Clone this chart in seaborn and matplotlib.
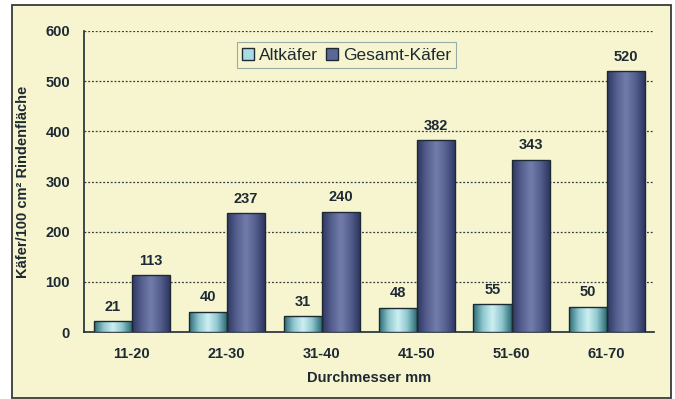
import matplotlib
matplotlib.use("Agg")
import matplotlib.pyplot as plt
import numpy as np
import pandas as pd
import seaborn as sns
from matplotlib.patches import Patch, Rectangle
from matplotlib.colors import LinearSegmentedColormap

# Data
categories = ["11-20", "21-30", "31-40", "41-50", "51-60", "61-70"]
altkaefer = [21, 40, 31, 48, 55, 50]
gesamt = [113, 237, 240, 382, 343, 520]
series_names = ["Altkäfer", "Gesamt-Käfer"]
y_ticks = [0, 100, 200, 300, 400, 500, 600]

df = pd.DataFrame({
    "Durchmesser": categories * 2,
    "Wert": altkaefer + gesamt,
    "Serie": [series_names[0]] * len(categories) + [series_names[1]] * len(categories),
})

sns.set_theme(style="white")
plt.rcParams["font.family"] = ["Liberation Sans", "DejaVu Sans"]

bg = "#f7f5d0"
ink = "#1e2a33"
flat_colors = {"Altkäfer": "#a9dbe2", "Gesamt-Käfer": "#5d6796"}
gradients = {
    "Altkäfer": ["#2d6b73", "#8fc7cf", "#cdf0f2", "#8fc7cf", "#2d6b73"],
    "Gesamt-Käfer": ["#2f3762", "#56608f", "#737dac", "#56608f", "#2f3762"],
}
fs = 10.5

fig = plt.figure(figsize=(6.75, 3.99), dpi=100, facecolor="white")
# Framed cream panel behind the axes
W, H = 675, 399
frame = Rectangle((12 / W, 1 - 398 / H), (671 - 12) / W, (398 - 5) / H,
                  transform=fig.transFigure, facecolor=bg, edgecolor="#3a3a3a",
                  linewidth=1.3, zorder=-10)
fig.patches.append(frame)

ax = fig.add_axes([84 / W, 1 - 332 / H, (654 - 84) / W, (332 - 31) / H])
ax.set_zorder(1)
ax.set_facecolor(bg)

sns.barplot(data=df, x="Durchmesser", y="Wert", hue="Serie", order=categories,
            hue_order=series_names, palette=flat_colors, width=0.8, dodge=True,
            edgecolor=ink, linewidth=1.0, legend=False, ax=ax, zorder=3)

n = len(categories)
# Shaded (cylinder-like) fill for each bar
for i, bar in enumerate(ax.patches[:2 * n]):
    name = series_names[i // n]
    cmap = LinearSegmentedColormap.from_list(name, gradients[name])
    x0, w = bar.get_x(), bar.get_width()
    y0, h = bar.get_y(), bar.get_height()
    grad = np.linspace(0, 1, 64).reshape(1, -1)
    im = ax.imshow(grad, cmap=cmap, aspect="auto", extent=(x0, x0 + w, y0, y0 + h),
                   zorder=3.5, interpolation="bicubic")
    im.set_clip_path(bar)
    bar.set_facecolor("none")
    bar.set_zorder(4)
    val = altkaefer[i % n] if i < n else gesamt[i % n]
    ax.text(x0 + w / 2, val + 15, f"{val}", ha="center", va="bottom",
            fontsize=fs, fontweight="bold", color=ink, zorder=5)
ax.set_xlim(-0.5, n - 0.5)
ax.set_ylim(0, 600)

# Gridlines and axes
ax.set_yticks(y_ticks)
ax.set_yticklabels([str(t) for t in y_ticks], fontsize=fs, fontweight="bold", color=ink)
for t in y_ticks[1:]:
    ax.axhline(t, color="#333a40", linestyle=(0, (1.5, 1.5)), linewidth=0.9, zorder=1)

ax.set_xticks(np.arange(-0.5, n, 1.0))
ax.set_xticklabels([""] * (n + 1))
ax.set_xticks(np.arange(n), minor=True)
ax.set_xticklabels(categories, minor=True, fontsize=fs, fontweight="bold", color=ink)
ax.tick_params(axis="x", which="major", direction="out", length=4, width=1, color=ink)
ax.tick_params(axis="x", which="minor", length=0, pad=11)
ax.tick_params(axis="y", direction="out", length=4, width=1, color=ink, pad=6)

for s in ["top", "right"]:
    ax.spines[s].set_visible(False)
for s in ["left", "bottom"]:
    ax.spines[s].set_color(ink)
    ax.spines[s].set_linewidth(1.2)

ax.set_xlabel("Durchmesser mm", fontsize=fs, fontweight="bold", color=ink, labelpad=7)
ax.set_ylabel("Käfer/100 cm² Rindenfläche", fontsize=fs, fontweight="bold", color=ink, labelpad=11)

handles = [Patch(facecolor=flat_colors[s], edgecolor=ink, linewidth=1.0) for s in series_names]
leg = ax.legend(handles, series_names, loc="upper center", bbox_to_anchor=(0.4605, 0.962),
                borderaxespad=0, ncol=2, fontsize=12.5, frameon=True, fancybox=False,
                handlelength=0.7, handleheight=0.7, handletextpad=0.25, columnspacing=0.5,
                borderpad=0.3)
leg.get_frame().set_facecolor(bg)
leg.get_frame().set_edgecolor("#7f9a9a")
leg.get_frame().set_linewidth(0.8)
for t in leg.get_texts():
    t.set_color(ink)

fig.savefig("out.png", dpi=100, facecolor="white")
